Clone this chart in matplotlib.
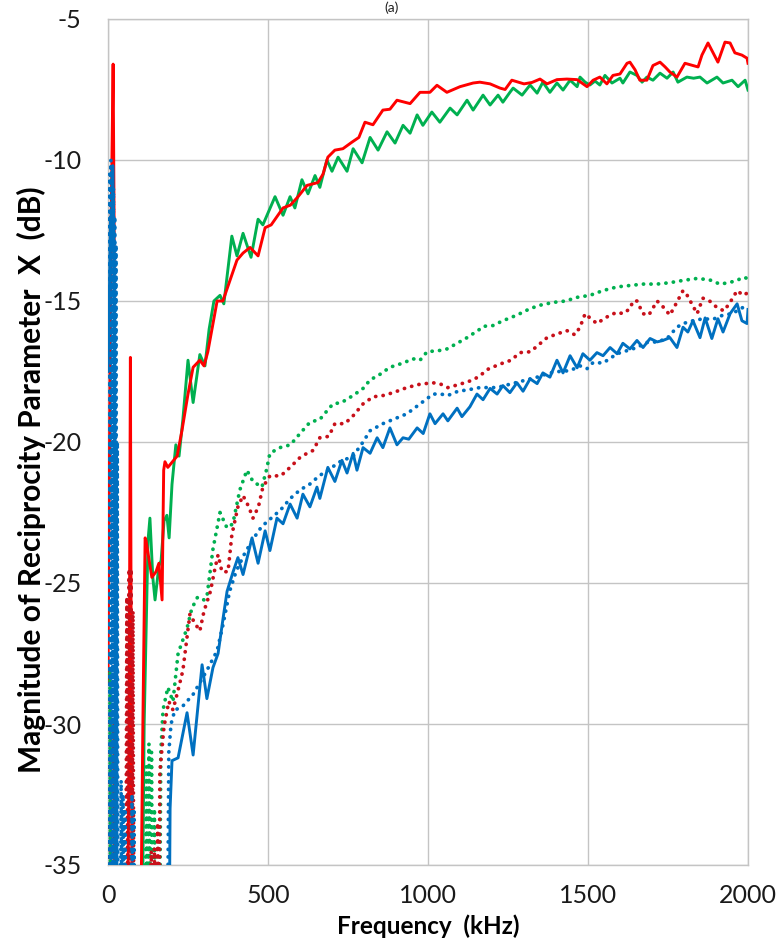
import matplotlib
matplotlib.use("Agg")
import matplotlib.pyplot as plt

plt.rcParams['font.family'] = ['Lato', 'DejaVu Sans']
plt.rcParams['axes.unicode_minus'] = False

# ---------------- data (kHz, dB) ----------------
f_red_solid = [0, 5, 10, 16, 19, 22, 26, 60, 66, 70, 73, 76, 100, 109, 116, 119, 137, 150, 159, 169,
               174, 178, 187, 216, 231, 250, 266, 287, 300, 312, 341, 359, 403, 422, 444, 469, 491, 510,
               547, 570, 594, 622, 656, 672, 687, 709, 734, 762, 784, 803, 828, 859, 881, 903, 944, 975,
               1006, 1028, 1059, 1100, 1141, 1162, 1194, 1225, 1241, 1262, 1300, 1325, 1350, 1372, 1403,
               1434, 1466, 1497, 1516, 1537, 1559, 1578, 1600, 1622, 1631, 1647, 1662, 1684, 1703, 1725,
               1741, 1756, 1778, 1803, 1828, 1844, 1856, 1875, 1891, 1906, 1928, 1944, 1959, 1981, 1997, 2000]
db_red_solid = [-28.5, -20, -12, -6.6, -12, -25, -40, -40, -30, -17.0, -30, -40, -40, -30, -23.4, -23.5,
                -24.8, -24.6, -24.3, -25.6, -21.0, -20.7, -20.9, -20.5, -19.6, -18.3, -17.35, -17.1, -17.3,
                -16.8, -15.0, -15.0, -13.55, -13.3, -13.1, -13.4, -12.4, -12.3, -11.7, -11.6, -11.3, -10.9,
                -10.8, -10.5, -9.9, -9.65, -9.6, -9.37, -9.2, -8.66, -8.75, -8.23, -8.2, -7.88, -8.0, -7.6,
                -7.6, -7.35, -7.6, -7.4, -7.27, -7.24, -7.3, -7.45, -7.5, -7.17, -7.3, -7.25, -7.13, -7.3,
                -7.15, -7.13, -7.15, -7.4, -7.17, -7.06, -7.3, -7.0, -6.95, -6.57, -6.53, -6.8, -7.17, -7.17,
                -6.65, -6.53, -6.7, -6.88, -7.06, -6.57, -6.65, -6.7, -6.28, -5.85, -6.2, -6.53, -5.82, -5.85,
                -6.2, -6.28, -6.39, -6.57]

f_green_solid = [105, 113, 125, 131, 140, 147, 159, 166, 175, 184, 191, 200, 212, 222, 234, 250, 266, 287,
                 303, 316, 331, 350, 362, 387, 403, 422, 447, 469, 484, 522, 547, 569, 584, 606, 625, 647,
                 662, 684, 700, 719, 747, 766, 794, 819, 844, 872, 897, 922, 944, 966, 984, 1012, 1037, 1069,
                 1091, 1122, 1141, 1172, 1194, 1219, 1234, 1256, 1266, 1294, 1319, 1341, 1359, 1381, 1403,
                 1422, 1444, 1466, 1475, 1491, 1506, 1522, 1537, 1553, 1575, 1600, 1609, 1631, 1653, 1669,
                 1684, 1703, 1725, 1747, 1766, 1781, 1809, 1830, 1850, 1872, 1903, 1922, 1950, 1969, 1991, 2000]
db_green_solid = [-40, -30, -23.5, -22.7, -24.8, -25.6, -24.4, -24.2, -22.8, -22.6, -23.4, -21.5, -20.1,
                  -20.5, -19.2, -17.1, -18.6, -16.9, -17.3, -16.0, -15.0, -14.8, -15.1, -12.7, -13.4, -12.6,
                  -13.45, -12.1, -12.3, -11.3, -11.96, -11.3, -11.7, -10.7, -11.2, -10.55, -10.97, -10.0,
                  -10.4, -9.9, -10.4, -9.6, -10.1, -9.2, -9.65, -9.0, -9.4, -8.77, -9.05, -8.4, -8.77, -8.3,
                  -8.66, -8.16, -8.4, -7.88, -8.23, -7.7, -8.05, -7.7, -7.95, -7.6, -7.45, -7.7, -7.34, -7.63,
                  -7.24, -7.6, -7.27, -7.52, -7.17, -7.4, -7.06, -7.24, -7.34, -7.2, -7.34, -7.0, -7.27, -7.1,
                  -7.27, -6.88, -7.0, -7.24, -7.06, -7.17, -6.92, -7.1, -6.88, -7.24, -7.06, -7.1, -7.06,
                  -7.27, -7.06, -7.27, -7.17, -7.4, -7.17, -7.52]

f_blue_solid = [0, 4, 8, 12, 15, 18, 21, 24, 27, 190, 194, 200, 219, 247, 266, 294, 309, 328, 344, 359,
                372, 391, 406, 422, 450, 469, 491, 506, 528, 547, 569, 591, 609, 631, 653, 662, 687, 709,
                731, 747, 766, 778, 797, 819, 841, 859, 881, 903, 922, 940, 966, 985, 1006, 1022, 1047,
                1062, 1091, 1106, 1131, 1153, 1172, 1194, 1216, 1234, 1256, 1278, 1297, 1319, 1341, 1359,
                1381, 1403, 1422, 1444, 1466, 1484, 1506, 1528, 1547, 1569, 1591, 1609, 1631, 1653, 1672,
                1694, 1716, 1734, 1756, 1778, 1797, 1812, 1828, 1850, 1866, 1887, 1906, 1922, 1944, 1966,
                1981, 1997, 2000]
db_blue_solid = [-17.5, -15, -12.0, -13, -10.2, -12.5, -20, -30, -40, -40, -33, -31.3, -31.2, -29.6, -31.1,
                 -27.9, -29.1, -28.0, -27.5, -26.3, -25.3, -24.6, -24.1, -24.7, -23.4, -24.3, -23.15, -23.85,
                 -22.7, -22.9, -22.2, -22.7, -21.85, -22.3, -21.6, -22.0, -20.9, -21.4, -20.65, -21.1, -20.4,
                 -21.0, -20.2, -20.4, -19.85, -20.2, -19.5, -20.1, -19.85, -19.9, -19.5, -19.7, -19.0, -19.35,
                 -19.0, -19.25, -18.8, -19.1, -18.75, -18.3, -18.5, -18.1, -18.3, -18.0, -18.25, -17.9, -18.2,
                 -17.76, -17.93, -17.55, -17.7, -17.1, -17.55, -16.94, -17.37, -16.87, -17.1, -16.83, -16.94,
                 -16.65, -16.87, -16.5, -16.7, -16.4, -16.65, -16.33, -16.45, -16.4, -16.3, -16.65, -15.93,
                 -16.1, -15.7, -16.3, -15.6, -16.33, -15.63, -16.1, -15.45, -15.1, -15.7, -15.8, -15.3]

f_red_dotted = [3, 5, 8, 11, 14, 17, 20, 23, 26, 55, 59, 63, 66, 69, 72, 75, 78, 81, 130, 135, 140, 145,
                150, 155, 160, 162, 175, 190, 203, 219, 234, 256, 270, 287, 300, 320, 334, 344, 356, 375,
                387, 406, 422, 440, 453, 470, 484, 506, 540, 569, 600, 622, 641, 662, 690, 709, 740, 766,
                797, 828, 860, 891, 934, 975, 1016, 1040, 1062, 1100, 1141, 1162, 1190, 1234, 1260, 1287,
                1320, 1341, 1372, 1403, 1434, 1459, 1475, 1491, 1506, 1528, 1547, 1569, 1591, 1610, 1631,
                1641, 1653, 1672, 1690, 1716, 1734, 1756, 1775, 1797, 1810, 1841, 1859, 1880, 1903, 1925,
                1944, 1966, 1985, 2000]
db_red_dotted = [-40, -29, -40, -29, -40, -30, -40, -31, -40, -40, -25.5, -40, -24.5, -40, -24.5, -40, -26,
                 -40, -40, -34.5, -40, -34.4, -40, -33.5, -38, -31.7, -30.1, -29.2, -29.5, -28.8, -28.1,
                 -26.1, -26.4, -26.7, -26.0, -25.3, -24.5, -24.0, -24.6, -24.6, -23.3, -22.3, -21.9, -22.3,
                 -22.7, -22.3, -21.6, -21.2, -21.2, -20.9, -20.55, -20.4, -20.3, -19.85, -19.8, -19.35,
                 -19.35, -19.07, -18.65, -18.4, -18.35, -18.25, -18.07, -17.95, -17.9, -17.95, -18.07,
                 -17.95, -17.8, -17.65, -17.4, -17.2, -17.1, -16.83, -16.8, -16.6, -16.3, -16.17, -16.05,
                 -16.2, -15.93, -15.45, -15.6, -15.8, -15.65, -15.5, -15.4, -15.45, -15.27, -15.0, -15.0,
                 -15.45, -15.5, -15.0, -15.2, -15.5, -15.1, -14.63, -14.8, -15.45, -14.9, -15.0, -15.23,
                 -15.35, -15.05, -14.63, -14.8, -14.7]

f_green_dotted = [3, 6, 9, 12, 15, 18, 21, 24, 27, 115, 120, 124, 128, 132, 136, 140, 145, 150, 160, 165,
                  172, 187, 203, 219, 247, 262, 280, 300, 309, 328, 350, 372, 390, 412, 434, 453, 481, 495,
                  506, 537, 570, 600, 631, 662, 684, 703, 730, 766, 797, 819, 850, 881, 922, 953, 975, 997,
                  1040, 1059, 1091, 1122, 1162, 1172, 1203, 1234, 1278, 1319, 1350, 1391, 1430, 1466, 1506,
                  1547, 1591, 1631, 1672, 1716, 1756, 1797, 1841, 1880, 1912, 1940, 1966, 1984, 2000]
db_green_dotted = [-40, -28, -40, -29, -40, -30, -40, -31, -40, -40, -31.5, -40, -30.7, -40, -31, -40, -33,
                   -40, -40, -31, -29.5, -28.7, -29.2, -27.5, -26.6, -25.9, -25.5, -25.6, -25.5, -23.8,
                   -22.5, -23.05, -22.9, -21.7, -21.0, -21.4, -21.6, -21.0, -20.4, -20.2, -20.1, -19.7,
                   -19.3, -19.2, -18.9, -18.65, -18.6, -18.35, -18.1, -17.8, -17.6, -17.35, -17.2, -17.05,
                   -17.1, -16.8, -16.75, -16.7, -16.5, -16.3, -16.0, -15.9, -15.87, -15.7, -15.5, -15.27,
                   -15.15, -15.05, -15.0, -14.87, -14.8, -14.63, -14.5, -14.45, -14.4, -14.4, -14.35, -14.27,
                   -14.2, -14.25, -14.4, -14.35, -14.27, -14.16, -14.2]

f_blue_dotted = [3, 5, 7, 9, 11, 13, 15, 17, 19, 21, 23, 25, 27, 29, 31, 38, 41, 44, 47, 50, 53, 56, 72,
                 75, 78, 81, 84, 185, 190, 197, 209, 231, 266, 309, 341, 359, 380, 400, 425, 450, 480, 510,
                 540, 570, 600, 630, 660, 687, 725, 766, 797, 819, 859, 891, 934, 975, 1016, 1040, 1062,
                 1094, 1125, 1162, 1216, 1256, 1297, 1341, 1381, 1410, 1444, 1475, 1497, 1516, 1547, 1591,
                 1622, 1653, 1684, 1716, 1747, 1778, 1797, 1828, 1859, 1890, 1922, 1950, 1984, 2000]
db_blue_dotted = [-40, -10.5, -40, -10, -40, -10.2, -40, -11, -40, -12, -40, -13, -40, -20, -40, -40, -32,
                  -40, -32.5, -40, -33, -40, -40, -32.5, -40, -33, -40, -40, -31, -30.0, -29.5, -29.4,
                  -28.95, -28.1, -27.4, -26.5, -25.3, -24.6, -24.0, -23.5, -23.0, -22.7, -22.4, -22.0,
                  -21.7, -21.5, -21.2, -21.0, -20.7, -20.5, -20.0, -19.6, -19.35, -19.2, -19.0, -18.65,
                  -18.3, -18.3, -18.35, -18.2, -18.15, -18.07, -18.07, -17.95, -17.83, -17.7, -17.55,
                  -17.5, -17.47, -17.3, -17.4, -17.18, -17.2, -16.87, -16.76, -16.65, -16.47, -16.45,
                  -16.33, -15.93, -15.8, -15.7, -15.63, -15.65, -15.5, -15.45, -15.23, -15.1]

x_ticks = [0, 500, 1000, 1500, 2000]
y_ticks = [-35, -30, -25, -20, -15, -10, -5]

series = [
    (f_green_solid, db_green_solid, '#00B050', '-'),
    (f_red_solid, db_red_solid, '#FF0000', '-'),
    (f_blue_solid, db_blue_solid, '#0070C0', '-'),
    (f_green_dotted, db_green_dotted, '#00B050', ':'),
    (f_red_dotted, db_red_dotted, '#C8101A', ':'),
    (f_blue_dotted, db_blue_dotted, '#0070C0', ':'),
]
for fx, dy, c, ls in series:
    if len(fx) != len(dy):
        raise ValueError(f"length mismatch {c} {ls}: {len(fx)} vs {len(dy)}")

# ---------------- figure ----------------
W, H = 778, 946
fig = plt.figure(figsize=(W / 100, H / 100), dpi=100)
ax = fig.add_axes([108 / W, 1 - 865 / H, (748 - 108) / W, (865 - 19) / H])

for fx, dy, c, ls in series:
    if ls == '-':
        ax.plot(fx, dy, color=c, lw=2.1, solid_joinstyle='round', zorder=3)
    else:
        ax.plot(fx, dy, color=c, lw=2.7, linestyle=(0, (0.05, 1.95)),
                dash_capstyle='round', zorder=3)

ax.set_xlim(0, 2000)
ax.set_ylim(-35, -5)
ax.set_xticks(x_ticks)
ax.set_yticks(y_ticks)
ax.set_xticklabels([str(v) for v in x_ticks])
ax.set_yticklabels([str(v) for v in y_ticks])
ax.grid(True, color='#C4C4C4', lw=1.0)
ax.set_axisbelow(True)
for s in ax.spines.values():
    s.set_color('#C4C4C4')
    s.set_linewidth(1.0)
ax.tick_params(length=0, labelsize=18, colors='#1a1a1a')
ax.tick_params(axis='y', pad=19)
ax.tick_params(axis='x', pad=14)

ax.set_xlabel('Frequency  (kHz)', fontsize=17.5, fontweight='bold')
ax.xaxis.set_label_coords(0.5, -0.058)
ax.set_ylabel('Magnitude of Reciprocity Parameter  X  (dB)', fontsize=21.5, fontweight='bold')
ax.yaxis.set_label_coords(-0.097, 0.455)

fig.text(0.503, 1 - 1 / H, '(a)', ha='center', va='top', fontsize=10, color='#222222')

fig.savefig('out.png', dpi=100, facecolor='white')
